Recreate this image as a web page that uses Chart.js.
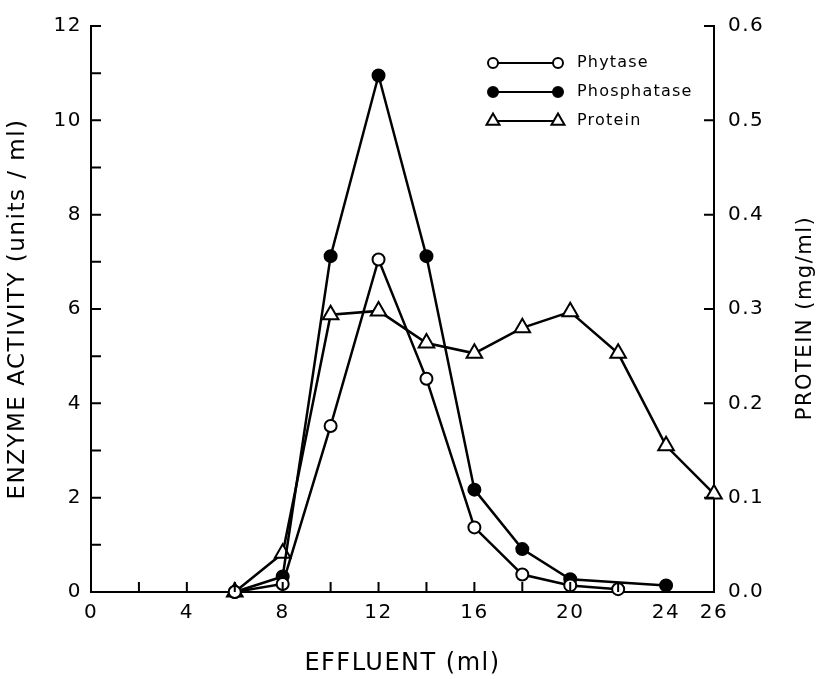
<!DOCTYPE html>
<html>
<head>
<meta charset="utf-8">
<script src="https://cdn.jsdelivr.net/npm/chart.js@4.4.1/dist/chart.umd.min.js"></script>
<style>
  html, body { margin: 0; padding: 0; background: #fff; }
  #wrap { width: 826px; height: 679px; }
</style>
</head>
<body>
<div id="wrap"><canvas id="c" width="826" height="679"></canvas></div>
<script>
// ---- Data ----
const effluentPhytase = [6, 8, 10, 12, 14, 16, 18, 20, 22];
const phytase = [0, 0.17, 3.52, 7.05, 4.52, 1.37, 0.37, 0.14, 0.06];

const effluentPhosphatase = [6, 8, 10, 12, 14, 16, 18, 20, 24];
const phosphatase = [0, 0.33, 7.12, 10.95, 7.12, 2.17, 0.91, 0.27, 0.14];

const effluentProtein = [6, 8, 10, 12, 14, 16, 18, 20, 22, 24, 26];
const protein = [0, 0.041, 0.294, 0.298, 0.264, 0.253, 0.28, 0.297, 0.253, 0.155, 0.104];

const seriesNames = ['Phytase', 'Phosphatase', 'Protein'];
const xLabelValues = [0, 4, 8, 12, 16, 20, 24, 26];
const leftLabelValues = [0, 2, 4, 6, 8, 10, 12];

const xTitle = 'EFFLUENT (ml)';
const leftTitle = 'ENZYME ACTIVITY (units / ml)';
const rightTitle = 'PROTEIN (mg/ml)';

function pts(xs, ys) { return xs.map((x, i) => ({ x: x, y: ys[i] })); }

const FONT = "'DejaVu Sans', sans-serif";
const LS = '1.5px';

const spacingPlugin = {
  id: 'spacing',
  beforeLayout(chart) { chart.ctx.letterSpacing = LS; },
  beforeDraw(chart) { chart.ctx.letterSpacing = LS; }
};

const inwardTicks = {
  id: 'inwardTicks',
  afterDraw(chart) {
    const ctx = chart.ctx;
    const a = chart.chartArea;
    const len = 10;
    ctx.save();
    ctx.strokeStyle = '#000';
    ctx.lineWidth = 2;
    ctx.beginPath();
    chart.scales.x.ticks.forEach(t => {
      const px = chart.scales.x.getPixelForValue(t.value);
      ctx.moveTo(px, a.bottom); ctx.lineTo(px, a.bottom - len);
    });
    chart.scales.y.ticks.forEach(t => {
      const py = chart.scales.y.getPixelForValue(t.value);
      ctx.moveTo(a.left, py); ctx.lineTo(a.left + len, py);
    });
    chart.scales.y1.ticks.forEach(t => {
      const py = chart.scales.y1.getPixelForValue(t.value);
      ctx.moveTo(a.right, py); ctx.lineTo(a.right - len, py);
    });
    ctx.stroke();

    // right axis title, reading bottom-to-top like the left one
    ctx.letterSpacing = LS;
    ctx.fillStyle = '#000';
    ctx.font = "21px " + FONT;
    ctx.textAlign = 'center';
    ctx.textBaseline = 'middle';
    ctx.translate(806, 318);
    ctx.rotate(-Math.PI / 2);
    ctx.fillText(rightTitle, 0, 0);
    ctx.restore();
  }
};

const customLegend = {
  id: 'customLegend',
  afterDraw(chart) {
    const ctx = chart.ctx;
    const x0 = 493, x1 = 558, tx = 577;
    const rows = [63, 92, 121];
    ctx.save();
    ctx.letterSpacing = '1.2px';
    chart.data.datasets.forEach((ds, i) => {
      const y = rows[i];
      ctx.strokeStyle = '#000';
      ctx.lineWidth = 2;
      ctx.beginPath(); ctx.moveTo(x0, y); ctx.lineTo(x1, y); ctx.stroke();
      const r = ds.pointStyle === 'triangle' ? 7.5 : 5;
      [x0, x1].forEach(px => {
        ctx.fillStyle = ds.pointBackgroundColor;
        ctx.strokeStyle = '#000';
        ctx.lineWidth = 2;
        ctx.beginPath();
        if (ds.pointStyle === 'triangle') {
          const h = r;
          ctx.moveTo(px, y - h);
          ctx.lineTo(px + h * 0.866, y + h * 0.5);
          ctx.lineTo(px - h * 0.866, y + h * 0.5);
          ctx.closePath();
        } else {
          ctx.arc(px, y, r, 0, Math.PI * 2);
        }
        ctx.fill(); ctx.stroke();
      });
      ctx.fillStyle = '#000';
      ctx.font = "16px " + FONT;
      ctx.textBaseline = 'middle';
      ctx.textAlign = 'left';
      ctx.fillText(ds.label, tx, y);
    });
    ctx.restore();
  }
};

const common = {
  borderColor: '#000',
  borderWidth: 2.5,
  pointBorderColor: '#000',
  pointBorderWidth: 2,
  tension: 0,
  clip: false
};

new Chart(document.getElementById('c'), {
  type: 'line',
  data: {
    datasets: [
      Object.assign({}, common, {
        label: seriesNames[0], data: pts(effluentPhytase, phytase), yAxisID: 'y',
        pointStyle: 'circle', pointRadius: 6, pointBackgroundColor: '#fff'
      }),
      Object.assign({}, common, {
        label: seriesNames[1], data: pts(effluentPhosphatase, phosphatase), yAxisID: 'y',
        pointStyle: 'circle', pointRadius: 6, pointBackgroundColor: '#000'
      }),
      Object.assign({}, common, {
        label: seriesNames[2], data: pts(effluentProtein, protein), yAxisID: 'y1',
        pointStyle: 'triangle', pointRadius: 9, pointBackgroundColor: '#fff'
      })
    ]
  },
  options: {
    responsive: false,
    animation: false,
    devicePixelRatio: 1,
    layout: { padding: { top: 12, left: 0, right: 0, bottom: 0 } },
    plugins: { legend: { display: false }, tooltip: { enabled: false } },
    scales: {
      x: {
        type: 'linear', min: 0, max: 26,
        grid: { display: false, drawTicks: false },
        border: { display: true, color: '#000', width: 2 },
        afterBuildTicks(scale) {
          const t = [];
          for (let v = 0; v <= 26; v += 2) t.push({ value: v });
          scale.ticks = t;
        },
        ticks: {
          autoSkip: false, maxRotation: 0, padding: 9, color: '#000',
          font: { family: FONT, size: 20 },
          callback: (v) => xLabelValues.includes(v) ? String(v) : ''
        },
        title: {
          display: true, text: xTitle, color: '#000',
          font: { family: FONT, size: 24 }, padding: { top: 0, bottom: 1 }
        },
        afterFit(scale) { scale.height = 87; }
      },
      y: {
        type: 'linear', position: 'left', min: 0, max: 12,
        grid: { display: false, drawTicks: false },
        border: { display: true, color: '#000', width: 2 },
        ticks: {
          stepSize: 1, autoSkip: false, padding: 9, color: '#000',
          font: { family: FONT, size: 20 },
          callback: (v) => leftLabelValues.includes(v) ? String(v) : ''
        },
        title: {
          display: true, text: leftTitle, color: '#000',
          font: { family: FONT, size: 23 }, padding: { top: 4, bottom: 0 }
        },
        afterFit(scale) { scale.width = 91; }
      },
      y1: {
        type: 'linear', position: 'right', min: 0, max: 0.6,
        grid: { display: false, drawTicks: false },
        border: { display: true, color: '#000', width: 2 },
        ticks: {
          stepSize: 0.1, autoSkip: false, padding: 14, color: '#000',
          font: { family: FONT, size: 20 },
          callback: (v) => Number(v).toFixed(1)
        },
        title: { display: false, text: rightTitle },
        afterFit(scale) { scale.width = 112; }
      }
    }
  },
  plugins: [spacingPlugin, inwardTicks, customLegend]
});
</script>
</body>
</html>
